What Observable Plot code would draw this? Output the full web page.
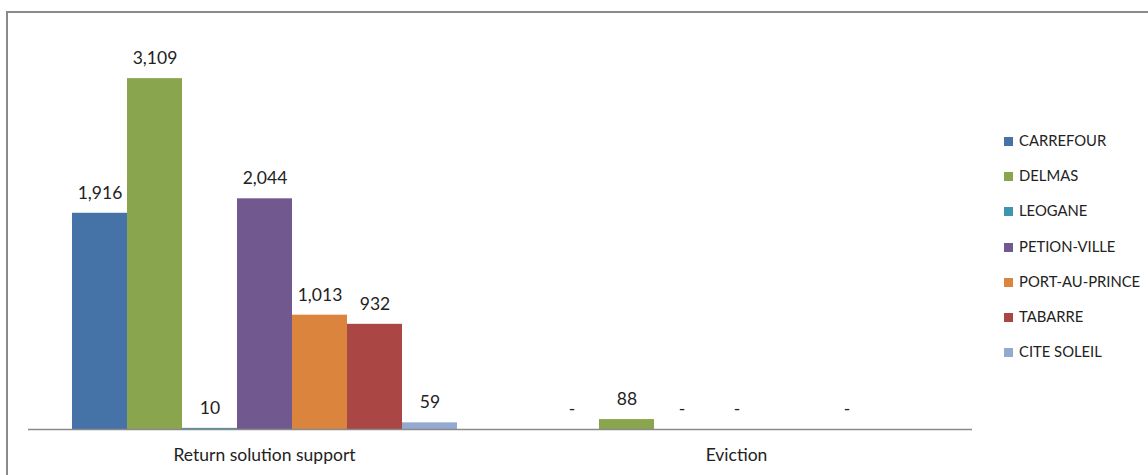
<!DOCTYPE html>
<html>
<head>
<meta charset="utf-8">
<script src="https://cdn.jsdelivr.net/npm/d3@7"></script>
<script src="https://cdn.jsdelivr.net/npm/@observablehq/plot@0.6"></script>
<style>
  html, body { margin: 0; padding: 0; background: #fff; }
  #wrap { position: relative; width: 1148px; height: 475px; overflow: hidden; font-family: Lato, "Open Sans", sans-serif; }
  #border { position: absolute; left: 6px; top: 11px; width: 1200px; height: 600px; border-left: 2px solid #8a8a8a; border-top: 2px solid #8a8a8a; }
  #chart { position: absolute; left: 0; top: 0; }
  #legend { position: absolute; left: 1004px; top: 131px; }
  .item { position: absolute; left: 0; white-space: nowrap; font-size: 14.8px; color: #222; height: 18px; line-height: 18px; }
  .sw { display: inline-block; width: 9px; height: 9px; margin-right: 6px; vertical-align: 0px; }
</style>
</head>
<body>
<div id="wrap">
  <div id="border"></div>
  <div id="chart"></div>
  <div id="legend"></div>
</div>
<script>
const categories = ["Return solution support", "Eviction"];
const series = ["CARREFOUR", "DELMAS", "LEOGANE", "PETION-VILLE", "PORT-AU-PRINCE", "TABARRE", "CITE SOLEIL"];
const colors = ["#4572a7", "#89a54e", "#3d96ae", "#71588f", "#db843d", "#aa4643", "#93a9cf"];
const returnValues = [1916, 3109, 10, 2044, 1013, 932, 59];
const evictionValues = [0, 88, 0, 0, null, 0, null];

const rows = [];
series.forEach((s, i) => {
  rows.push({cat: categories[0], s, v: returnValues[i]});
  rows.push({cat: categories[1], s, v: evictionValues[i]});
});
const present = rows.filter(d => d.v !== null);
const fmt = d3.format(",");

const chart = Plot.plot({
  width: 1148,
  height: 475,
  marginLeft: 27,
  marginRight: 176,
  marginTop: 34,
  marginBottom: 46,
  style: {fontFamily: "Lato, 'Open Sans', sans-serif", background: "transparent"},
  fx: {domain: categories, padding: 0, label: null, axis: "bottom", tickSize: 0, tickPadding: 19, fontSize: 17.5},
  x: {domain: series, paddingInner: 0, paddingOuter: 0.75, axis: null},
  y: {domain: [0, 3500], axis: null},
  color: {domain: series, range: colors},
  marks: [
    Plot.barY(present, {fx: "cat", x: "s", y: "v", fill: "s"}),
    Plot.ruleY([0], {stroke: "#8a8a8a", strokeWidth: 1.3}),
    Plot.text(present, {fx: "cat", x: "s", y: "v", text: d => d.v === 0 ? "-" : fmt(d.v), dy: -20, fontSize: 17.5, fill: "#222"})
  ]
});
chart.querySelectorAll('[aria-label="fx-axis tick label"] text').forEach(t => { t.setAttribute("font-size", "17.5"); t.setAttribute("fill", "#222"); });
document.getElementById("chart").appendChild(chart);

const legend = document.getElementById("legend");
series.forEach((s, i) => {
  const div = document.createElement("div");
  div.className = "item";
  div.style.top = (i * 35.2) + "px";
  div.innerHTML = `<span class="sw" style="background:${colors[i]}"></span>${s}`;
  legend.appendChild(div);
});
</script>
</body>
</html>
